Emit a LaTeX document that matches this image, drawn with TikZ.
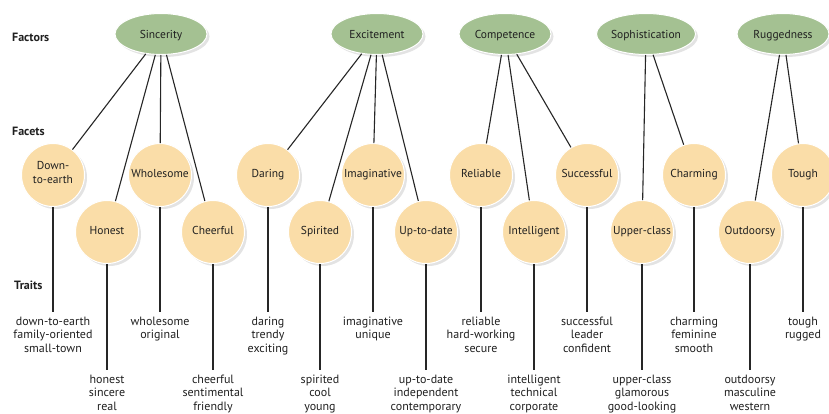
\documentclass[tikz,border=0pt]{standalone}
\usepackage{fontspec}
\setmainfont{PT Sans}
\usetikzlibrary{shapes.geometric,shadows}
\definecolor{factorgreen}{RGB}{164,193,146}
\definecolor{facetyellow}{RGB}{250,221,168}
\definecolor{inkgray}{RGB}{32,32,32}
\begin{document}
\begin{tikzpicture}[x=1pt,y=-1pt,
  factor/.style={ellipse, fill=factorgreen, draw=white, line width=1pt,
    minimum width=92pt, minimum height=41pt, inner sep=0pt,
    drop shadow={shadow xshift=2.5pt,shadow yshift=-2.5pt,opacity=0.22},
    font=\fontsize{11.5}{13}\selectfont, text=inkgray,
    text height=9pt, text depth=1pt},
  facet/.style={circle, fill=facetyellow, draw=white, line width=1pt,
    minimum size=63pt, inner sep=0pt, align=center,
    drop shadow={shadow xshift=2.5pt,shadow yshift=-2.5pt,opacity=0.22},
    font=\fontsize{11.5}{14}\selectfont, text=inkgray,
    execute at begin node=\strut},
  trait/.style={align=center, anchor=north, inner xsep=1pt, inner ysep=4.5pt,
    font=\fontsize{12}{13.6}\selectfont, text=inkgray},
  level/.style={font=\bfseries\fontsize{12}{14}\selectfont, anchor=base west,
    inner sep=0pt, text=inkgray},
  link/.style={draw=black!85, line width=1.1pt}]
\fill[white] (0,0) rectangle (829,413);
\useasboundingbox (0,0) rectangle (829,413);

\node[level] (lfactors) at (12,41) {Factors};
\node[level] (lfacets) at (12,135) {Facets};
\node[level] (ltraits) at (14,289) {Traits};

\node[factor] (sin) at (161,34) {Sincerity};
\node[factor] (exc) at (377,34) {Excitement};
\node[factor] (com) at (505,34) {Competence};
\node[factor] (sop) at (646,34) {Sophistication};
\node[factor] (rug) at (783,34) {Ruggedness};

\foreach \n/\x/\y/\ty/\lab/\tr in {
  dte/53/175/312/{Down-\\to-earth\strut}/{down-to-earth\\family-oriented\\small-town},
  hon/107/232/370/{Honest}/{honest\\sincere\\real},
  who/160/175/312/{Wholesome}/{wholesome\\original},
  che/213/232/370/{Cheerful}/{cheerful\\sentimental\\friendly},
  dar/268/175/312/{Daring}/{daring\\trendy\\exciting},
  spi/320/232/370/{Spirited}/{spirited\\cool\\young},
  ima/373/175/312/{Imaginative}/{imaginative\\unique},
  upd/426/232/370/{Up-to-date}/{up-to-date\\independent\\contemporary},
  rel/481/175/312/{Reliable}/{reliable\\hard-working\\secure},
  int/534/232/370/{Intelligent}/{intelligent\\technical\\corporate},
  suc/587/175/312/{Successful}/{successful\\leader\\confident},
  upc/642/232/370/{Upper-class}/{upper-class\\glamorous\\good-looking},
  cha/694/175/312/{Charming}/{charming\\feminine\\smooth},
  out/750/232/370/{Outdoorsy}/{outdoorsy\\masculine\\western},
  tou/803/175/312/{Tough}/{tough\\rugged}}{
  \node[facet] (\n) at (\x,\y) {\lab};
  \node[trait] (t\n) at (\x,\ty) {\tr};
  \draw[link] (\n) -- (t\n);
}

\foreach \f/\c in {sin/dte,sin/hon,sin/who,sin/che,
  exc/dar,exc/spi,exc/ima,exc/upd,
  com/rel,com/int,com/suc,
  sop/upc,sop/cha,
  rug/out,rug/tou}{
  \draw[link] (\f) -- (\c);
}
\end{tikzpicture}
\end{document}
